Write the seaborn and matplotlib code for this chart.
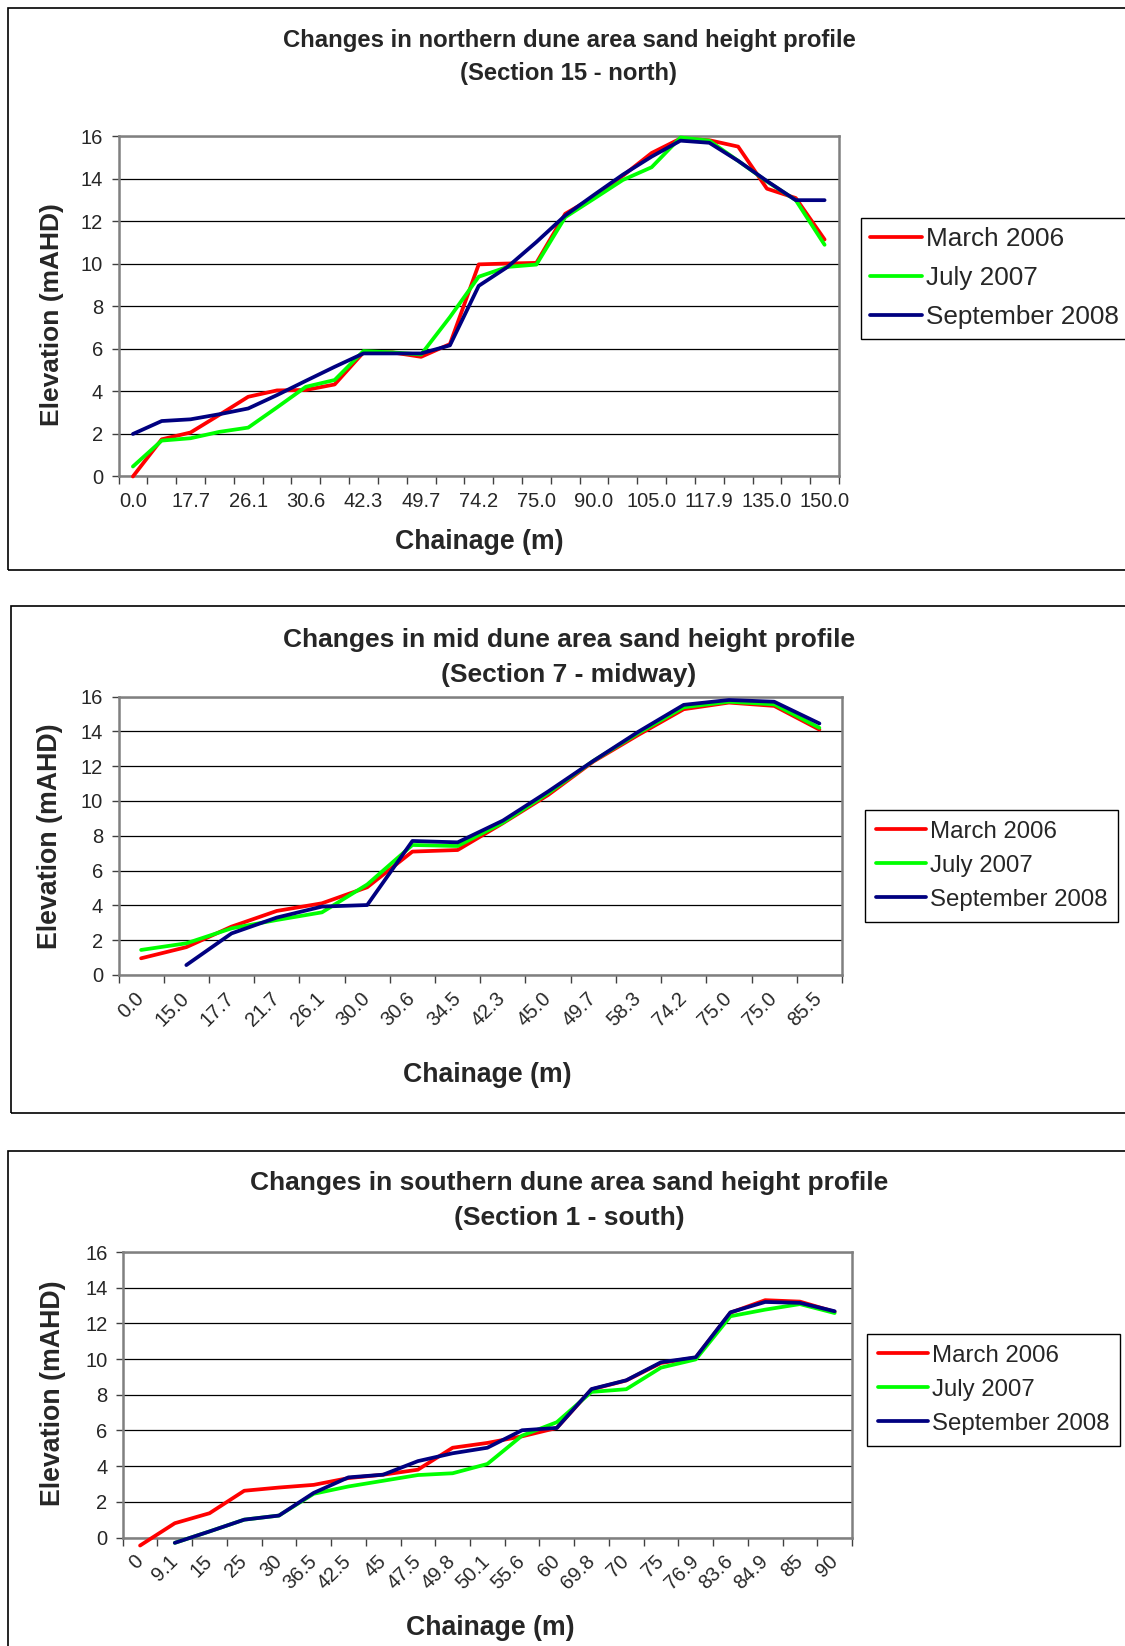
import numpy as np
import pandas as pd
import matplotlib
matplotlib.use('Agg')
import matplotlib.pyplot as plt
import matplotlib.transforms as mtrans
import seaborn as sns
from matplotlib.patches import Rectangle
from matplotlib.lines import Line2D

nan = np.nan

series_names = ['March 2006', 'July 2007', 'September 2008']
series_colors = ['#FF0000', '#00FF00', '#000080']

# ---- Section 15 - north (25 chainage points, every second one labelled) ----
north_tick_labels = ['0.0', '17.7', '26.1', '30.6', '42.3', '49.7', '74.2',
                     '75.0', '90.0', '105.0', '117.9', '135.0', '150.0']
north_march = [0.0, 1.75, 2.07, 2.9, 3.75, 4.05, 4.07, 4.33, 5.84, 5.84, 5.63, 6.23,
               9.98, 10.02, 10.05, 12.36, 13.15, 14.15, 15.22, 15.9, 15.82, 15.52,
               13.54, 13.1, 11.15]
north_july = [0.47, 1.69, 1.8, 2.1, 2.3, 3.25, 4.22, 4.54, 5.9, 5.84, 5.74, 7.5,
              9.4, 9.86, 9.97, 12.2, 13.07, 13.95, 14.55, 15.95, 15.8, 14.85,
              13.88, 13.0, 10.9]
north_sept = [2.0, 2.61, 2.69, 2.93, 3.2, 3.83, 4.5, 5.16, 5.79, 5.79, 5.79, 6.17,
              8.97, 9.86, 11.03, 12.28, 13.25, 14.2, 15.05, 15.8, 15.7, 14.85,
              13.9, 13.0, 13.0]

# ---- Section 7 - midway (16 chainage points) ----
mid_tick_labels = ['0.0', '15.0', '17.7', '21.7', '26.1', '30.0', '30.6', '34.5',
                   '42.3', '45.0', '49.7', '58.3', '74.2', '75.0', '75.0', '85.5']
mid_march = [0.96, 1.6, 2.78, 3.68, 4.12, 5.04, 7.09, 7.18, 8.72, 10.34, 12.26,
             13.8, 15.27, 15.65, 15.46, 14.1]
mid_july = [1.44, 1.82, 2.68, 3.16, 3.6, 5.2, 7.47, 7.41, 8.75, 10.44, 12.3,
            13.9, 15.38, 15.7, 15.55, 14.2]
mid_sept = [nan, 0.57, 2.39, 3.3, 3.93, 4.02, 7.7, 7.62, 8.87, 10.54, 12.3,
            13.98, 15.52, 15.8, 15.7, 14.45]

# ---- Section 1 - south (21 chainage points) ----
south_tick_labels = ['0', '9.1', '15', '25', '30', '36.5', '42.5', '45', '47.5',
                     '49.8', '50.1', '55.6', '60', '69.8', '70', '75', '76.9',
                     '83.6', '84.9', '85', '90']
south_march = [-0.45, 0.8, 1.36, 2.62, 2.8, 2.95, 3.33, 3.52, 3.8, 5.03, 5.3,
               5.67, 6.14, 8.3, 8.8, 9.78, 10.08, 12.6, 13.3, 13.22, 12.65]
south_july = [nan, -0.3, 0.34, 1.0, 1.23, 2.45, 2.86, 3.18, 3.5, 3.6, 4.12,
              5.71, 6.46, 8.16, 8.31, 9.52, 9.98, 12.4, 12.77, 13.08, 12.58]
south_sept = [nan, -0.3, 0.34, 1.0, 1.23, 2.5, 3.37, 3.52, 4.28, 4.72, 5.03,
              6.01, 6.14, 8.32, 8.81, 9.82, 10.1, 12.62, 13.2, 13.15, 12.68]

W, H = 1125, 1646
sns.set_style('white')
plt.rcParams['font.family'] = ['Liberation Sans', 'DejaVu Sans']

fig = plt.figure(figsize=(W / 100, H / 100), dpi=100)
fig.patch.set_facecolor('white')

LW = 2.7


def fx(x):
    return x / W


def fy(y):
    return 1 - y / H


def panel(frame_box, ax_box, values, tick_labels, tick_step, rotate,
          titles, title_y, title_size, ylab_xy, xlab_xy, ylab_size, xlab_size,
          legend_xy, legend_size, handle_len, leg_space, leg_pad, tick_size, xpad):
    l, t, r, b = frame_box
    fig.patches.append(Rectangle((fx(l), fy(b)), (r - l) / W, (b - t) / H,
                                 transform=fig.transFigure, fill=False,
                                 edgecolor='black', lw=1.2))
    al, at, ar, ab = ax_box
    ax = fig.add_axes([fx(al), fy(ab), (ar - al) / W, (ab - at) / H])
    n = len(values[0])
    frames = []
    for name, vals in zip(series_names, values):
        frames.append(pd.DataFrame({'pos': np.arange(n), 'elev': vals, 'series': name}))
    df = pd.concat(frames, ignore_index=True).dropna()
    sns.lineplot(data=df, x='pos', y='elev', hue='series', hue_order=series_names,
                 palette=dict(zip(series_names, series_colors)), lw=LW,
                 estimator=None, sort=False, legend=False, ax=ax)
    for ln in ax.lines:
        ln.set_clip_on(False)
        ln.set_solid_capstyle('round')
        ln.set_solid_joinstyle('round')
        ln.set_zorder(3)
    ax.set_xlim(-0.5, n - 0.5)
    ax.set_ylim(0, 16)
    ax.set_yticks(np.arange(0, 17, 2))
    ax.set_yticklabels([str(v) for v in range(0, 17, 2)], fontsize=tick_size)
    ax.set_xticks(np.arange(0, n, tick_step))
    if rotate:
        ax.set_xticklabels(tick_labels, fontsize=tick_size, rotation=45,
                           ha='right', va='center', rotation_mode='anchor')
        for lab in ax.get_xticklabels():
            lab.set_transform(lab.get_transform() +
                              mtrans.ScaledTranslation(-5 / 100, 0, fig.dpi_scale_trans))
    else:
        ax.set_xticklabels(tick_labels, fontsize=tick_size)
    ax.set_xticks(np.arange(-0.5, n, 1.0), minor=True)
    ax.tick_params(axis='x', which='major', bottom=True, length=0, pad=xpad)
    ax.tick_params(axis='x', which='minor', bottom=True, length=6, width=1.0,
                   color='#404040', direction='out')
    ax.tick_params(axis='y', which='major', left=True, length=5, width=1.0,
                   color='#404040', direction='out', pad=6)
    ax.yaxis.grid(True, color='black', lw=0.9)
    ax.xaxis.grid(False)
    ax.set_axisbelow(True)
    for s in ax.spines.values():
        s.set_visible(True)
        s.set_color('#808080')
        s.set_linewidth(1.8)
    ax.set_xlabel('')
    ax.set_ylabel('')
    cx = 569
    for txt, ty in zip(titles, title_y):
        fig.text(fx(cx), fy(ty), txt, ha='center', va='center',
                 fontsize=title_size, fontweight='bold')
    fig.text(fx(ylab_xy[0]), fy(ylab_xy[1]), 'Elevation (mAHD)', rotation=90,
             ha='center', va='center', fontsize=ylab_size, fontweight='bold')
    fig.text(fx(xlab_xy[0]), fy(xlab_xy[1]), 'Chainage (m)', ha='center',
             va='center', fontsize=xlab_size, fontweight='bold')
    handles = [Line2D([0], [0], color=c, lw=LW, solid_capstyle='round')
               for c in series_colors]
    leg = ax.legend(handles, series_names, loc='upper left',
                    bbox_to_anchor=(fx(legend_xy[0]), fy(legend_xy[1])),
                    bbox_transform=fig.transFigure, borderaxespad=0,
                    fontsize=legend_size, frameon=True, fancybox=False,
                    shadow=False, handlelength=handle_len, handletextpad=0.15,
                    borderpad=leg_pad, labelspacing=leg_space)
    fr = leg.get_frame()
    fr.set_edgecolor('black')
    fr.set_linewidth(1.0)
    fr.set_alpha(1)
    return ax


panel((8.4, 8.4, 1135, 570), (118.5, 136.4, 839, 476.5),
      [north_march, north_july, north_sept], north_tick_labels, 2, False,
      ['Changes in northern dune area sand height profile', '(Section 15 - north)'],
      [41, 73.5], 17.2, (52.5, 315), (479, 542), 19.0, 19.2,
      (861, 218), 18.8, 2.0, 0.58, 0.35, 14.5, 11)

panel((10.5, 606, 1135, 1113), (118.5, 696.5, 842, 975),
      [mid_march, mid_july, mid_sept], mid_tick_labels, 1, True,
      ['Changes in mid dune area sand height profile', '(Section 7 - midway)'],
      [640, 674.5], 19.0, (50, 836), (487, 1075), 19.3, 19.2,
      (865, 810), 17.3, 2.1, 0.5, 0.45, 14.5, 15)

panel((8.4, 1151, 1135, 1660), (122.7, 1252, 852, 1537.5),
      [south_march, south_july, south_sept], south_tick_labels, 1, True,
      ['Changes in southern dune area sand height profile', '(Section 1 - south)'],
      [1183, 1218], 19.0, (52.5, 1393), (490, 1628), 19.3, 19.2,
      (867, 1334), 17.3, 2.1, 0.5, 0.45, 14.5, 15)

fig.savefig('out.png', dpi=100, facecolor='white')
